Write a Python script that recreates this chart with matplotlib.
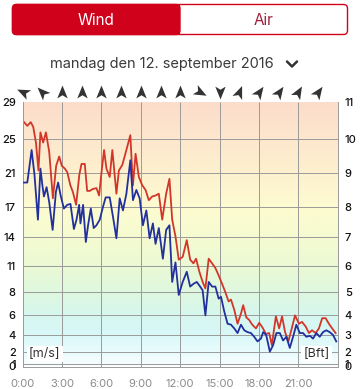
import matplotlib
matplotlib.use("Agg")
import matplotlib.pyplot as plt
import numpy as np
from matplotlib.path import Path
from matplotlib.markers import MarkerStyle
from matplotlib.transforms import Affine2D
from matplotlib.colors import LinearSegmentedColormap
from matplotlib.patches import FancyBboxPatch, Rectangle

plt.rcParams['font.family'] = ['Inter', 'DejaVu Sans']

# beaufort boundaries (m/s) with left (m/s) and right (Bft) labels
bft_edges = [0, 0.3, 1.6, 3.4, 5.5, 8.0, 10.8, 13.9, 17.2, 20.8, 24.5, 28.5]
ms_labels = ['0', '1', '2', '4', '6', '8', '11', '14', '17', '21', '25', '29']
bft_labels = ['0', '1', '2', '3', '4', '5', '6', '7', '8', '9', '10', '11']

hour_ticks = [0, 3, 6, 9, 12, 15, 18, 21]
hour_labels = ['0:00', '3:00', '6:00', '9:00', '12:00', '15:00', '18:00', '21:00']

# gusts (red)
gust_t = [0.10, 0.35, 0.61, 0.80, 1.01, 1.20, 1.35, 1.56, 1.77, 2.02, 2.30, 2.55, 2.78, 2.98,
          3.21, 3.40, 3.63, 3.82, 4.07, 4.31, 4.48, 4.73, 4.91, 5.11, 5.34, 5.62, 5.82, 6.02,
          6.20, 6.38, 6.63, 6.83, 7.14, 7.33, 7.59, 7.90, 8.20, 8.40, 8.60, 8.85, 9.11, 9.36,
          9.61, 9.87, 10.12, 10.37, 10.63, 10.93, 11.18, 11.39, 11.64, 11.89, 12.19, 12.50,
          12.76, 13.01, 13.21, 13.46, 13.71, 13.92, 14.17, 14.43, 14.68, 14.93, 15.19, 15.44,
          15.69, 15.87, 16.12, 16.37, 16.63, 16.80, 17.03, 17.26, 17.49, 17.77, 18.02, 18.27,
          18.53, 18.78, 18.98, 19.29, 19.54, 19.76, 19.99, 20.24, 20.50, 20.75, 21.05, 21.28,
          21.56, 21.81, 22.04, 22.32, 22.57, 22.82, 23.08, 23.33, 23.58, 23.84]
gust_v = [26.3, 25.9, 26.3, 25.8, 24.1, 21.1, 25.2, 24.1, 25.2, 23.1, 18.1, 21.6, 22.6, 21.6,
          21.3, 20.9, 19.5, 18.8, 17.4, 20.6, 21.8, 21.8, 18.9, 18.9, 19.1, 19.2, 18.4, 21.1,
          23.3, 21.3, 20.4, 23.3, 18.6, 21.1, 21.7, 23.3, 24.9, 19.5, 22.9, 20.4, 19.5, 19.0,
          17.9, 18.3, 18.4, 18.6, 15.8, 18.6, 20.2, 15.8, 14.0, 11.5, 11.8, 13.6,
          11.5, 11.1, 11.6, 10.2, 9.1, 8.4, 11.6, 11.1, 10.6, 9.8, 8.9, 8.0,
          7.0, 7.2, 6.1, 4.6, 5.7, 6.6, 5.3, 5.0, 4.5, 4.1, 4.7, 4.2,
          3.5, 3.6, 2.3, 5.4, 4.1, 5.4, 3.7, 2.7, 4.1, 5.5, 4.6, 4.8,
          4.3, 3.6, 3.9, 3.6, 4.1, 5.2, 5.2, 4.6, 4.1, 3.6]

# mean wind (blue)
mean_t = [0.10, 0.35, 0.52, 0.68, 0.90, 1.16, 1.35, 1.50, 1.62, 1.82, 2.02, 2.28, 2.53, 2.70,
          2.89, 3.14, 3.39, 3.64, 3.90, 4.10, 4.30, 4.40, 4.60, 4.81, 4.98, 5.19, 5.41, 5.62,
          5.87, 6.12, 6.32, 6.63, 6.88, 7.14, 7.39, 7.64, 7.90, 8.20, 8.40, 8.66, 8.91, 9.16,
          9.42, 9.67, 9.92, 10.12, 10.37, 10.68, 10.93, 11.18, 11.39, 11.64, 11.89, 12.19,
          12.50, 12.76, 13.01, 13.26, 13.52, 13.71, 13.92, 14.17, 14.43, 14.68, 14.93, 15.11,
          15.36, 15.61, 15.87, 16.12, 16.37, 16.63, 16.88, 17.13, 17.39, 17.64, 17.89, 18.15,
          18.32, 18.55, 18.83, 19.08, 19.33, 19.59, 19.84, 20.09, 20.35, 20.60, 20.85, 21.11,
          21.36, 21.61, 21.89, 22.12, 22.37, 22.63, 22.88, 23.13, 23.39, 23.64, 23.89]
mean_v = [19.8, 19.8, 21.6, 23.3, 20.6, 15.8, 21.3, 19.5, 18.3, 19.3, 17.7, 14.7, 18.8, 19.8,
          18.4, 17.0, 17.4, 17.5, 14.8, 15.8, 17.4, 15.4, 17.4, 13.4, 15.2, 17.0, 14.9, 15.2,
          15.8, 17.2, 18.2, 18.2, 16.1, 13.8, 18.1, 16.8, 18.6, 22.2, 17.9, 19.0, 18.1, 15.2,
          16.8, 13.8, 15.4, 13.2, 14.9, 11.6, 14.7, 15.2, 9.1, 11.2, 7.7, 9.1,
          10.2, 8.6, 8.9, 9.1, 8.6, 8.2, 5.5, 9.1, 8.6, 8.6, 7.3, 7.5,
          5.9, 4.6, 4.5, 4.1, 3.6, 4.5, 3.9, 3.7, 3.6, 3.2, 2.7, 3.0,
          3.7, 3.4, 1.6, 2.3, 3.6, 3.6, 2.8, 3.2, 2.0, 3.2, 4.5, 3.6,
          3.6, 3.2, 3.3, 3.0, 3.6, 3.2, 3.7, 3.9, 3.7, 3.4, 2.7]

# wind direction arrows (every 1.5 h), degrees clockwise from north
arrow_t = [0, 1.5, 3, 4.5, 6, 7.5, 9, 10.5, 12, 13.5, 15, 16.5, 18, 19.5, 21, 22.5]
arrow_dir = [-65, -45, 0, 0, 0, 0, 0, 0, 0, 118, 180, 22, 35, 35, 30, 35]

red = '#d0021b'

bg_cmap = LinearSegmentedColormap.from_list('bft', [
    (0.0, '#f7fdff'), (1.5 / 28.5, '#e8fbfd'), (3.5 / 28.5, '#d8f8f8'),
    (5.5 / 28.5, '#d6f7ee'), (8 / 28.5, '#dff8df'), (11 / 28.5, '#ecf9d4'),
    (14 / 28.5, '#f6fbd0'), (17 / 28.5, '#fdfbd1'), (21 / 28.5, '#fdf0ce'),
    (25 / 28.5, '#fde6cd'), (1.0, '#fcdcca')])

fig = plt.figure(figsize=(3.6, 3.89), dpi=100)
ax = fig.add_axes([22.7 / 360, 22.5 / 389, 315 / 360, 264.8 / 389])

grad = np.linspace(0, 28.5, 300).reshape(-1, 1)
ax.imshow(grad, extent=[0, 24, 0, 28.5], origin='lower', aspect='auto',
          cmap=bg_cmap, zorder=0)
ax.hlines(bft_edges[:-1], 0, 24, color='#9a9a9a', lw=0.7, zorder=1)
ax.vlines(hour_ticks[1:], 0, 28.5, color='#9a9a9a', lw=0.7, zorder=1)

ax.plot(mean_t, mean_v, color='#22309e', lw=1.3, zorder=3)
ax.plot(gust_t, gust_v, color='#d2362a', lw=1.3, zorder=2)

ax.set_xlim(0, 24)
ax.set_ylim(0, 28.5)
ax.set_xticks(hour_ticks, hour_labels)
ax.set_yticks(bft_edges, ms_labels)
ax.tick_params(axis='x', length=0, pad=9, labelsize=8, labelcolor='#8a8a8a')
ax.tick_params(axis='y', length=0, pad=5, labelsize=8, labelcolor='#111111')
for lab in ax.get_yticklabels():
    lab.set_fontweight('medium')
ax.spines['top'].set_visible(False)
for s in ['left', 'right', 'bottom']:
    ax.spines[s].set_color('#9a9a9a')
    ax.spines[s].set_linewidth(0.7)

ax2 = ax.twinx()
ax2.set_ylim(0, 28.5)
ax2.set_yticks(bft_edges, bft_labels)
ax2.tick_params(axis='y', length=0, pad=5, labelsize=8, labelcolor='#111111')
for lab in ax2.get_yticklabels():
    lab.set_fontweight('medium')
for s in ax2.spines.values():
    s.set_visible(False)

ax.text(0.02, 0.025, '[m/s]', transform=ax.transAxes, fontsize=9, color='#333333',
        ha='left', va='bottom', zorder=5,
        bbox=dict(fc='white', ec='none', pad=1.5))
ax.text(0.975, 0.025, '[Bft]', transform=ax.transAxes, fontsize=9, color='#333333',
        ha='right', va='bottom', zorder=5,
        bbox=dict(fc='white', ec='none', pad=1.5))

arrow_path = Path([(0, 1), (0.75, -0.85), (0, -0.4), (-0.75, -0.85), (0, 1)],
                  [Path.MOVETO, Path.LINETO, Path.LINETO, Path.LINETO, Path.CLOSEPOLY])
for t, d in zip(arrow_t, arrow_dir):
    m = MarkerStyle(arrow_path, transform=Affine2D().rotate_deg(-d))
    ax.plot(t, 1.037, marker=m, ms=10, color='#333333', mec='none',
            transform=ax.get_xaxis_transform(), clip_on=False)

# header overlay in pixel coordinates
oax = fig.add_axes([0, 0, 1, 1])
oax.set_xlim(0, 360)
oax.set_ylim(389, 0)
oax.axis('off')
oax.patch.set_alpha(0)

oax.add_patch(FancyBboxPatch((12.5, 4.5), 335, 30, boxstyle='round,pad=0,rounding_size=4',
                             fc='white', ec=red, lw=1))
oax.add_patch(FancyBboxPatch((12.5, 4.5), 167.5, 30, boxstyle='round,pad=0,rounding_size=4',
                             fc=red, ec=red, lw=1))
oax.add_patch(Rectangle((170, 4.5), 10, 30, fc=red, ec='none'))
oax.text(96, 20, 'Wind', color='white', fontsize=11, ha='center', va='center')
oax.text(264, 20, 'Air', color='#a0203c', fontsize=11, ha='center', va='center')
oax.text(162, 64, 'mandag den 12. september 2016', color='#3a3a3a', fontsize=10.5,
         ha='center', va='center')
oax.plot([287, 292, 297], [61.5, 66.5, 61.5], color='#333333', lw=1.8,
         solid_capstyle='round', solid_joinstyle='round')

fig.savefig('out.png', dpi=100)
